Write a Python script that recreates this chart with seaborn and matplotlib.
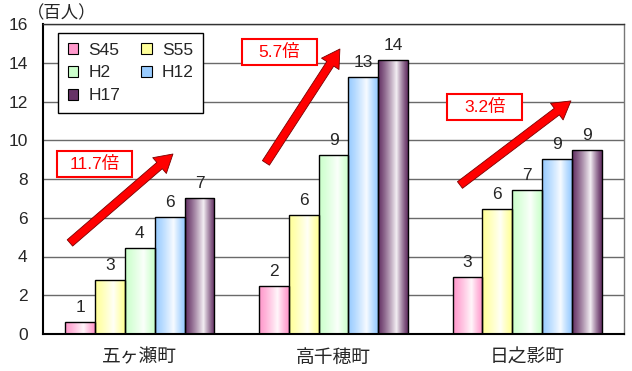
import numpy as np
import pandas as pd
import matplotlib
matplotlib.use("Agg")
import matplotlib.pyplot as plt
import seaborn as sns
from matplotlib.patches import FancyArrowPatch, Patch, Rectangle
from matplotlib.colors import to_rgb

# population (hundreds of people) by town and census year
towns = ["五ヶ瀬町", "高千穂町", "日之影町"]
years = ["S45", "S55", "H2", "H12", "H17"]
s45 = [0.60, 2.47, 2.95]
s55 = [2.78, 6.14, 6.45]
h2 = [4.46, 9.25, 7.43]
h12 = [6.04, 13.25, 9.03]
h17 = [7.02, 14.12, 9.48]
yticks = [0, 2, 4, 6, 8, 10, 12, 14, 16]

colors = ["#FF99CC", "#FFFF99", "#CCFFCC", "#99CCFF", "#663366"]

# growth arrows (tail x, tail y, head x, head y) and ratio label centres
arrows = [(-0.361, 4.70, 0.171, 9.29),
          (0.651, 8.83, 1.033, 14.71),
          (1.653, 7.69, 2.226, 12.03)]
label_pos = [(-0.234, 8.77), (0.721, 14.58), (1.782, 11.74)]

series = {"S45": s45, "S55": s55, "H2": h2, "H12": h12, "H17": h17}
rows = []
for yr in years:
    for town, v in zip(towns, series[yr]):
        rows.append({"town": town, "year": yr, "value": v})
df = pd.DataFrame(rows)

sns.set_style("white")
plt.rcParams["font.family"] = ["Liberation Sans", "Noto Sans CJK JP"]

fig = plt.figure(figsize=(6.32, 3.71), dpi=100)
ax = fig.add_axes([43 / 632, 37 / 371, 581 / 632, 310 / 371])

sns.barplot(data=df, x="town", y="value", hue="year", order=towns,
            hue_order=years, palette=colors, saturation=1, width=0.77,
            edgecolor="black", linewidth=1.0, legend=False, ax=ax)


def gradient(base, n=64):
    c = np.array(to_rgb(base))
    t = np.linspace(0, 1, n)
    peak = 0.62
    w = np.where(t < peak, t / peak, 1 - (t - peak) / (1 - peak))
    w = np.clip(w, 0, 1) ** 1.2 * 0.92
    img = c[None, :] * (1 - w[:, None]) + w[:, None]
    return img[None, :, :]


for cont, base in zip(ax.containers, colors):
    for bar in cont:
        x0, y0 = bar.get_x(), bar.get_y()
        w, h = bar.get_width(), bar.get_height()
        im = ax.imshow(gradient(base), extent=[x0, x0 + w, y0, y0 + h],
                       aspect="auto", interpolation="bilinear", zorder=2)
        im.set_clip_path(bar)
        bar.set_facecolor("none")
        bar.set_zorder(3)
    ax.bar_label(cont, labels=[f"{v:.0f}" for v in cont.datavalues],
                 padding=5, fontsize=12.5)

ax.set_xlim(-0.5, 2.5)
ax.set_ylim(0, 16)
ax.set_yticks(yticks)
ax.set_yticklabels([str(t) for t in yticks], fontsize=12.5)
ax.set_xlabel("")
ax.set_ylabel("")
ax.tick_params(axis="y", length=0, pad=11)
ax.tick_params(axis="x", length=0, pad=9, labelsize=13.5)
for lab in ax.get_xticklabels():
    lab.set_family(["Noto Sans CJK JP"])
ax.set_xticks([0.5, 1.5], minor=True)
ax.tick_params(axis="x", which="minor", direction="in", length=4,
               color="#555555", width=0.8)

ax.yaxis.grid(True, color="#6a6a6a", linewidth=1.0)
ax.set_axisbelow(True)

for side in ["left", "bottom"]:
    ax.spines[side].set_color("black")
    ax.spines[side].set_linewidth(1.5)
ax.spines["top"].set_color("#333333")
ax.spines["top"].set_linewidth(1.0)
ax.spines["right"].set_color("#777777")
ax.spines["right"].set_linewidth(1.0)

# growth arrows with ratio boxes
box_w, box_h = 75 / 193.7, 26 / 19.375
for (xa, ya, xb, yb), (tx, ty), a, b in zip(arrows, label_pos, s45, h17):
    arr = FancyArrowPatch((xa, ya), (xb, yb),
                          arrowstyle="simple,head_length=0.85,head_width=1.0,tail_width=0.4",
                          mutation_scale=15, facecolor="red",
                          edgecolor="#7a0000", linewidth=0.6,
                          shrinkA=0, shrinkB=0, zorder=5)
    ax.add_patch(arr)
    ax.add_patch(Rectangle((tx - box_w / 2, ty - box_h / 2), box_w, box_h,
                           facecolor="white", edgecolor="red",
                           linewidth=1.5, zorder=5))
    ax.text(tx, ty, f"{b / a:.1f}倍", color="red", fontsize=12.5,
            ha="center", va="center", zorder=6,
            family=["Liberation Sans", "Noto Sans CJK JP"])

# legend filled row by row: S45 S55 / H2 H12 / H17
handles = [Patch(facecolor=c, edgecolor="black", linewidth=0.8) for c in colors]
order = [0, 2, 4, 1, 3]
leg = ax.legend([handles[i] for i in order], [years[i] for i in order],
                ncol=2, loc="upper left",
                bbox_to_anchor=(0.026, 0.971), fontsize=12.5,
                handlelength=0.6, handleheight=0.6, handletextpad=0.6,
                columnspacing=1.2, labelspacing=0.45, borderpad=0.55,
                borderaxespad=0, fancybox=False, framealpha=1,
                edgecolor="black")
leg.get_frame().set_linewidth(1.0)
leg.set_zorder(7)

fig.text(62 / 632, 1 - 13 / 371, "（百人）", fontsize=12.5, ha="center",
         va="center", family=["Noto Sans CJK JP"])

fig.savefig("out.png", dpi=100)
